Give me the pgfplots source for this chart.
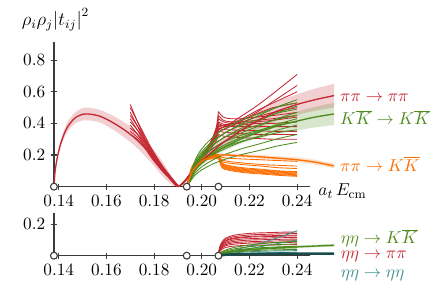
\documentclass[border=0pt]{standalone}
\usepackage{pgfplots}
\pgfplotsset{compat=1.18}
\usepgfplotslibrary{fillbetween}
\definecolor{cred}{RGB}{196,40,50}
\definecolor{cgreen}{RGB}{78,139,30}
\definecolor{corange}{RGB}{255,110,0}
\definecolor{cteal}{RGB}{62,142,142}
\definecolor{cdteal}{RGB}{25,75,75}
\definecolor{axgray}{RGB}{60,60,60}
\tikzset{lab/.style={anchor=west, inner sep=0pt, font=\fontsize{11}{13}\selectfont}}
\pgfplotsset{
  base/.style={
    scale only axis, width=163pt,
    xmin=0.138, xmax=0.2455, ymin=0,
    axis lines=left,
    axis line style={-, line width=0.8pt, axgray},
    every tick/.style={axgray, line width=0.7pt},
    major tick length=4pt,
    clip=false,
    scaled x ticks=false, scaled y ticks=false,
    xtick={0.14,0.16,0.18,0.20,0.22,0.24},
    xticklabel style={/pgf/number format/.cd, fixed, fixed zerofill, precision=2},
    yticklabel style={/pgf/number format/.cd, fixed, fixed zerofill, precision=1},
    tick label style={font=\fontsize{10.5}{12}\selectfont},
  },
  thinl/.style={line width=0.55pt, smooth},
  cen/.style={line width=0.85pt, smooth},
  thr/.style={only marks, mark=*, mark size=2.2pt, mark options={fill=white, draw=axgray, line width=0.7pt}},
}
\begin{document}
\begin{tikzpicture}
\path (-34.3pt,-70.2pt) rectangle (243.6pt,118.7pt);
\begin{axis}[base, name=top, at={(0,0)}, anchor=south west, height=92pt, ymax=0.915,
  ytick={0.2,0.4,0.6,0.8}]
% ---- bands ----
\addplot[name path=rau, draw=none, smooth] coordinates {(0.138,0) (0.1385,0.11) (0.1395,0.205) (0.1410,0.30) (0.1434,0.40) (0.1469,0.47) (0.1511,0.50) (0.1574,0.485) (0.1644,0.435) (0.1713,0.366) (0.1783,0.26) (0.1839,0.15) (0.1881,0.045) (0.1902,0)};
\addplot[name path=ral, draw=none, smooth] coordinates {(0.138,0) (0.1385,0.09) (0.1395,0.175) (0.1410,0.26) (0.1434,0.34) (0.1469,0.40) (0.1511,0.42) (0.1574,0.405) (0.1644,0.345) (0.1713,0.266) (0.1783,0.16) (0.1839,0.06) (0.1881,0.005) (0.1902,0)};
\addplot[cred, fill opacity=0.22, draw=none] fill between[of=rau and ral];
\addplot[name path=rbu, draw=none, smooth] coordinates {(0.1905,0) (0.1937,0.06) (0.197,0.125) (0.200,0.18) (0.205,0.26) (0.210,0.325) (0.217,0.405) (0.225,0.485) (0.232,0.54) (0.240,0.585) (0.2475,0.62) (0.2555,0.651)};
\addplot[name path=rbl, draw=none, smooth] coordinates {(0.1905,0) (0.1937,0.04) (0.197,0.095) (0.200,0.14) (0.205,0.20) (0.210,0.255) (0.217,0.315) (0.225,0.375) (0.232,0.42) (0.240,0.455) (0.2475,0.48) (0.2555,0.501)};
\addplot[cred, fill opacity=0.22, draw=none] fill between[of=rbu and rbl];
\addplot[name path=gu, draw=none, smooth] coordinates {(0.1937,0) (0.197,0.11) (0.200,0.165) (0.205,0.23) (0.210,0.28) (0.217,0.335) (0.225,0.39) (0.232,0.435) (0.240,0.475) (0.2475,0.505) (0.2555,0.53)};
\addplot[name path=gl, draw=none, smooth] coordinates {(0.1937,0) (0.197,0.09) (0.200,0.135) (0.205,0.19) (0.210,0.23) (0.217,0.275) (0.225,0.31) (0.232,0.335) (0.240,0.355) (0.2475,0.375) (0.2555,0.39)};
\addplot[cgreen, fill opacity=0.22, draw=none] fill between[of=gu and gl];
\addplot[name path=ou, draw=none, smooth] coordinates {(0.1937,0) (0.1955,0.085) (0.197,0.123) (0.200,0.17) (0.205,0.205) (0.210,0.21) (0.217,0.205) (0.225,0.20) (0.232,0.192) (0.240,0.185) (0.2475,0.17) (0.2555,0.146)};
\addplot[name path=ol, draw=none, smooth] coordinates {(0.1937,0) (0.1955,0.075) (0.197,0.107) (0.200,0.15) (0.205,0.185) (0.210,0.19) (0.217,0.185) (0.225,0.176) (0.232,0.168) (0.240,0.155) (0.2475,0.14) (0.2555,0.116)};
\addplot[corange, fill opacity=0.22, draw=none] fill between[of=ou and ol];
% ---- red lines region A ----
\addplot[cred, thinl] coordinates {(0.170,0.52) (0.1745,0.36) (0.179,0.22) (0.184,0.11) (0.1895,0)};
\addplot[cred, thinl] coordinates {(0.170,0.50) (0.1745,0.37) (0.179,0.24) (0.184,0.12) (0.1900,0)};
\addplot[cred, thinl] coordinates {(0.170,0.47) (0.1745,0.34) (0.179,0.21) (0.184,0.10) (0.1895,0)};
\addplot[cred, thinl] coordinates {(0.170,0.45) (0.1745,0.35) (0.179,0.23) (0.184,0.12) (0.1905,0)};
\addplot[cred, thinl] coordinates {(0.170,0.43) (0.1745,0.32) (0.179,0.20) (0.184,0.10) (0.1898,0)};
\addplot[cred, thinl] coordinates {(0.170,0.41) (0.1745,0.33) (0.179,0.22) (0.184,0.11) (0.1903,0)};
\addplot[cred, thinl] coordinates {(0.170,0.39) (0.1745,0.30) (0.179,0.19) (0.184,0.095) (0.1898,0)};
\addplot[cred, thinl] coordinates {(0.170,0.37) (0.1745,0.31) (0.179,0.21) (0.184,0.105) (0.1905,0)};
\addplot[cred, thinl] coordinates {(0.170,0.35) (0.1745,0.29) (0.179,0.19) (0.184,0.09) (0.1900,0)};
\addplot[cred, thinl] coordinates {(0.170,0.33) (0.1745,0.28) (0.179,0.18) (0.184,0.09) (0.1902,0)};
% ---- red lines region B (below eta-eta threshold) ----
\addplot[cred, thinl] coordinates {(0.1905,0) (0.1937,0.05) (0.197,0.12) (0.200,0.182) (0.203,0.246) (0.205,0.292) (0.2063,0.327) (0.207,0.36)};
\addplot[cred, thinl] coordinates {(0.1905,0) (0.1937,0.05) (0.197,0.12) (0.200,0.1815) (0.203,0.2445) (0.205,0.289) (0.2063,0.3215) (0.207,0.35)};
\addplot[cred, thinl] coordinates {(0.1905,0) (0.1937,0.05) (0.197,0.12) (0.200,0.183) (0.203,0.249) (0.205,0.298) (0.2063,0.338) (0.207,0.38)};
\addplot[cred, thinl] coordinates {(0.1905,0) (0.1937,0.05) (0.197,0.12) (0.200,0.188) (0.203,0.263) (0.205,0.327) (0.2063,0.390) (0.207,0.475)};
\addplot[cred, thinl] coordinates {(0.1905,0) (0.1937,0.05) (0.197,0.12) (0.200,0.1865) (0.203,0.2595) (0.205,0.319) (0.2063,0.3765) (0.207,0.45)};
\addplot[cred, thinl] coordinates {(0.1905,0) (0.1937,0.05) (0.197,0.12) (0.200,0.1855) (0.203,0.2565) (0.205,0.313) (0.2063,0.3655) (0.207,0.43)};
\addplot[cred, thinl] coordinates {(0.1905,0) (0.1937,0.05) (0.197,0.12) (0.200,0.1845) (0.203,0.2535) (0.205,0.307) (0.2063,0.3545) (0.207,0.41)};
\addplot[cred, thinl] coordinates {(0.1905,0) (0.1937,0.05) (0.197,0.12) (0.200,0.184) (0.203,0.252) (0.205,0.304) (0.2063,0.349) (0.207,0.40)};
\addplot[cred, thinl] coordinates {(0.1905,0) (0.1937,0.05) (0.197,0.12) (0.200,0.1825) (0.203,0.2475) (0.205,0.295) (0.2063,0.3325) (0.207,0.37)};
\addplot[cred, thinl] coordinates {(0.1905,0) (0.1937,0.047) (0.197,0.114) (0.200,0.173) (0.203,0.235) (0.205,0.280) (0.2063,0.315) (0.207,0.35)};
\addplot[cred, thinl] coordinates {(0.1905,0) (0.1937,0.045) (0.197,0.108) (0.200,0.164) (0.203,0.222) (0.205,0.265) (0.2063,0.297) (0.207,0.33)};
\addplot[cred, thinl] coordinates {(0.1905,0) (0.1937,0.0525) (0.197,0.126) (0.200,0.191) (0.203,0.257) (0.205,0.304) (0.2063,0.339) (0.207,0.37)};
\addplot[cred, thinl] coordinates {(0.1905,0) (0.1937,0.0525) (0.197,0.126) (0.200,0.192) (0.203,0.260) (0.205,0.310) (0.2063,0.350) (0.207,0.39)};
% ---- red lines region B (above eta-eta threshold) ----
\addplot[cred, thinl] coordinates {(0.207,0.36) (0.209,0.375) (0.212,0.40) (0.217,0.45) (0.223,0.51) (0.230,0.59) (0.240,0.71)};
\addplot[cred, thinl] coordinates {(0.207,0.35) (0.209,0.36) (0.212,0.38) (0.217,0.42) (0.223,0.47) (0.230,0.54) (0.240,0.64)};
\addplot[cred, thinl] coordinates {(0.207,0.38) (0.209,0.385) (0.212,0.40) (0.217,0.43) (0.223,0.48) (0.230,0.53) (0.240,0.60)};
\addplot[cred, thinl] coordinates {(0.207,0.475) (0.209,0.44) (0.212,0.43) (0.217,0.43) (0.223,0.44) (0.230,0.45) (0.240,0.47)};
\addplot[cred, thinl] coordinates {(0.207,0.45) (0.209,0.42) (0.212,0.41) (0.217,0.41) (0.223,0.42) (0.230,0.43) (0.240,0.45)};
\addplot[cred, thinl] coordinates {(0.207,0.43) (0.209,0.41) (0.212,0.40) (0.217,0.40) (0.223,0.41) (0.230,0.42) (0.240,0.44)};
\addplot[cred, thinl] coordinates {(0.207,0.41) (0.209,0.395) (0.212,0.39) (0.217,0.39) (0.223,0.40) (0.230,0.40) (0.240,0.41)};
\addplot[cred, thinl] coordinates {(0.207,0.40) (0.209,0.385) (0.212,0.38) (0.217,0.38) (0.223,0.38) (0.230,0.38) (0.240,0.38)};
\addplot[cred, thinl] coordinates {(0.207,0.37) (0.209,0.36) (0.212,0.36) (0.217,0.355) (0.223,0.355) (0.230,0.35) (0.240,0.35)};
\addplot[cred, thinl] coordinates {(0.207,0.35) (0.209,0.345) (0.212,0.34) (0.217,0.335) (0.223,0.33) (0.230,0.33) (0.240,0.33)};
\addplot[cred, thinl] coordinates {(0.207,0.33) (0.209,0.32) (0.212,0.315) (0.217,0.31) (0.223,0.305) (0.230,0.30) (0.240,0.30)};
\addplot[cred, thinl] coordinates {(0.207,0.37) (0.209,0.375) (0.212,0.39) (0.217,0.42) (0.223,0.46) (0.230,0.50) (0.240,0.53)};
\addplot[cred, thinl] coordinates {(0.207,0.39) (0.209,0.385) (0.212,0.39) (0.217,0.41) (0.223,0.44) (0.230,0.47) (0.240,0.50)};
% ---- orange lines ----
\addplot[corange, thinl] coordinates {(0.1937,0) (0.1955,0.10) (0.197,0.14) (0.200,0.18) (0.204,0.19) (0.207,0.19)};
\addplot[corange, thinl] coordinates {(0.207,0.19) (0.2085,0.185) (0.211,0.18) (0.217,0.175) (0.225,0.17) (0.232,0.165) (0.240,0.16)};
\addplot[corange, thinl] coordinates {(0.1937,0) (0.1955,0.09) (0.197,0.13) (0.200,0.17) (0.204,0.185) (0.207,0.19)};
\addplot[corange, thinl] coordinates {(0.207,0.19) (0.2085,0.17) (0.211,0.16) (0.217,0.15) (0.225,0.14) (0.232,0.135) (0.240,0.13)};
\addplot[corange, thinl] coordinates {(0.1937,0) (0.1955,0.11) (0.197,0.15) (0.200,0.19) (0.204,0.20) (0.207,0.205)};
\addplot[corange, thinl] coordinates {(0.207,0.205) (0.2085,0.15) (0.211,0.135) (0.217,0.12) (0.225,0.11) (0.232,0.10) (0.240,0.095)};
\addplot[corange, thinl] coordinates {(0.1937,0) (0.1955,0.10) (0.197,0.14) (0.200,0.18) (0.204,0.19) (0.207,0.195)};
\addplot[corange, thinl] coordinates {(0.207,0.195) (0.2085,0.14) (0.211,0.125) (0.217,0.11) (0.225,0.10) (0.232,0.092) (0.240,0.085)};
\addplot[corange, thinl] coordinates {(0.1937,0) (0.1955,0.09) (0.197,0.13) (0.200,0.17) (0.204,0.18) (0.207,0.185)};
\addplot[corange, thinl] coordinates {(0.207,0.185) (0.2085,0.13) (0.211,0.115) (0.217,0.10) (0.225,0.09) (0.232,0.082) (0.240,0.075)};
\addplot[corange, thinl] coordinates {(0.1937,0) (0.1955,0.10) (0.197,0.14) (0.200,0.175) (0.204,0.185) (0.207,0.19)};
\addplot[corange, thinl] coordinates {(0.207,0.19) (0.2085,0.125) (0.211,0.11) (0.217,0.095) (0.225,0.085) (0.232,0.077) (0.240,0.07)};
\addplot[corange, thinl] coordinates {(0.1937,0) (0.1955,0.11) (0.197,0.15) (0.200,0.185) (0.204,0.19) (0.207,0.195)};
\addplot[corange, thinl] coordinates {(0.207,0.195) (0.2085,0.135) (0.211,0.12) (0.217,0.105) (0.225,0.095) (0.232,0.087) (0.240,0.08)};
\addplot[corange, thinl] coordinates {(0.1937,0) (0.1955,0.09) (0.197,0.13) (0.200,0.165) (0.204,0.175) (0.207,0.18)};
\addplot[corange, thinl] coordinates {(0.207,0.18) (0.2085,0.12) (0.211,0.105) (0.217,0.09) (0.225,0.08) (0.232,0.072) (0.240,0.065)};
\addplot[corange, thinl] coordinates {(0.1937,0) (0.1955,0.10) (0.197,0.14) (0.200,0.18) (0.204,0.19) (0.207,0.20)};
\addplot[corange, thinl] coordinates {(0.207,0.20) (0.2085,0.16) (0.211,0.15) (0.217,0.14) (0.225,0.13) (0.232,0.12) (0.240,0.115)};
\addplot[corange, thinl] coordinates {(0.1937,0) (0.1955,0.11) (0.197,0.15) (0.200,0.19) (0.204,0.195) (0.207,0.20)};
\addplot[corange, thinl] coordinates {(0.207,0.20) (0.2085,0.145) (0.211,0.13) (0.217,0.115) (0.225,0.105) (0.232,0.097) (0.240,0.09)};
% ---- green lines ----
\addplot[cgreen, thinl] coordinates {(0.1937,0) (0.197,0.138) (0.200,0.209) (0.205,0.286) (0.210,0.341) (0.217,0.402) (0.225,0.457) (0.232,0.506) (0.240,0.55)};
\addplot[cgreen, thinl] coordinates {(0.1937,0) (0.197,0.159) (0.200,0.239) (0.205,0.318) (0.210,0.371) (0.217,0.424) (0.225,0.466) (0.232,0.504) (0.240,0.53)};
\addplot[cgreen, thinl] coordinates {(0.1937,0) (0.197,0.128) (0.200,0.194) (0.205,0.265) (0.210,0.316) (0.217,0.372) (0.225,0.423) (0.232,0.469) (0.240,0.51)};
\addplot[cgreen, thinl] coordinates {(0.1937,0) (0.197,0.147) (0.200,0.221) (0.205,0.294) (0.210,0.343) (0.217,0.392) (0.225,0.431) (0.232,0.466) (0.240,0.49)};
\addplot[cgreen, thinl] coordinates {(0.1937,0) (0.197,0.118) (0.200,0.179) (0.205,0.244) (0.210,0.291) (0.217,0.343) (0.225,0.390) (0.232,0.432) (0.240,0.47)};
\addplot[cgreen, thinl] coordinates {(0.1937,0) (0.197,0.135) (0.200,0.203) (0.205,0.270) (0.210,0.315) (0.217,0.360) (0.225,0.396) (0.232,0.428) (0.240,0.45)};
\addplot[cgreen, thinl] coordinates {(0.1937,0) (0.197,0.108) (0.200,0.163) (0.205,0.224) (0.210,0.267) (0.217,0.314) (0.225,0.357) (0.232,0.396) (0.240,0.43)};
\addplot[cgreen, thinl] coordinates {(0.1937,0) (0.197,0.123) (0.200,0.185) (0.205,0.246) (0.210,0.287) (0.217,0.328) (0.225,0.361) (0.232,0.390) (0.240,0.41)};
\addplot[cgreen, thinl] coordinates {(0.1937,0) (0.197,0.098) (0.200,0.148) (0.205,0.203) (0.210,0.242) (0.217,0.285) (0.225,0.324) (0.232,0.359) (0.240,0.39)};
\addplot[cgreen, thinl] coordinates {(0.1937,0) (0.197,0.108) (0.200,0.162) (0.205,0.216) (0.210,0.252) (0.217,0.288) (0.225,0.317) (0.232,0.342) (0.240,0.36)};
\addplot[cgreen, thinl] coordinates {(0.1937,0) (0.197,0.083) (0.200,0.125) (0.205,0.172) (0.210,0.205) (0.217,0.241) (0.225,0.274) (0.232,0.304) (0.240,0.33)};
\addplot[cgreen, thinl] coordinates {(0.1937,0) (0.197,0.070) (0.200,0.106) (0.205,0.146) (0.210,0.174) (0.217,0.204) (0.225,0.232) (0.232,0.258) (0.240,0.28)};
% ---- central curves ----
\addplot[cred, cen] coordinates {(0.138,0) (0.1385,0.10) (0.1395,0.19) (0.1410,0.28) (0.1434,0.37) (0.1469,0.435) (0.1511,0.46) (0.1574,0.445) (0.1644,0.39) (0.1713,0.316) (0.1783,0.21) (0.1839,0.105) (0.1881,0.025) (0.1902,0)};
\addplot[cred, cen] coordinates {(0.1905,0) (0.1937,0.05) (0.197,0.11) (0.200,0.16) (0.205,0.23) (0.210,0.29) (0.217,0.36) (0.225,0.43) (0.232,0.48) (0.240,0.52) (0.2475,0.55) (0.2555,0.576)};
\addplot[cgreen, cen] coordinates {(0.1937,0) (0.197,0.10) (0.200,0.15) (0.205,0.21) (0.210,0.255) (0.217,0.305) (0.225,0.35) (0.232,0.385) (0.240,0.415) (0.2475,0.44) (0.2555,0.46)};
\addplot[corange, cen] coordinates {(0.1937,0) (0.1955,0.08) (0.197,0.115) (0.200,0.16) (0.205,0.195) (0.210,0.20) (0.217,0.195) (0.225,0.188) (0.232,0.18) (0.240,0.17) (0.2475,0.155) (0.2555,0.131)};
% ---- thresholds ----
\addplot[thr] coordinates {(0.138,0) (0.1937,0) (0.207,0)};
% ---- labels ----
\node[anchor=center, inner sep=0pt, font=\fontsize{12}{14}\selectfont] at (rel axis cs:0,1) [yshift=14pt, xshift=1pt] {$\rho_i\rho_j\bigl|t_{ij}\bigr|^2$};
\node[lab] at (rel axis cs:1,0) [xshift=5pt, yshift=-3pt] {$a_t\,E_{\mathrm{cm}}$};
\node[lab, text=cred] at (axis cs:0.2579,0.561) {$\pi\pi\to\pi\pi$};
\node[lab, text=cgreen] at (axis cs:0.2579,0.438) {$K\overline{K}\to K\overline{K}$};
\node[lab, text=corange] at (axis cs:0.2579,0.144) {$\pi\pi\to K\overline{K}$};
\end{axis}
\begin{axis}[base, name=bot, at={(0,-43.9pt)}, anchor=south west, height=27.1pt, ymax=0.27,
  ytick={0.2}]
\addplot[name path=gbu, draw=none, smooth] coordinates {(0.207,0) (0.2085,0.015) (0.210,0.022) (0.213,0.031) (0.217,0.039) (0.222,0.046) (0.228,0.054) (0.234,0.059) (0.240,0.064) (0.2475,0.069) (0.2555,0.075)};
\addplot[name path=gbl, draw=none, smooth] coordinates {(0.207,0) (0.2085,0.009) (0.210,0.014) (0.213,0.021) (0.217,0.027) (0.222,0.034) (0.228,0.040) (0.234,0.045) (0.240,0.048) (0.2475,0.053) (0.2555,0.057)};
\addplot[cgreen, fill opacity=0.25, draw=none] fill between[of=gbu and gbl];
% red eta eta -> pi pi
\addplot[cred, thinl] coordinates {(0.207,0) (0.2075,0.053) (0.2085,0.087) (0.210,0.111) (0.213,0.128) (0.217,0.137) (0.222,0.143) (0.228,0.146) (0.234,0.149) (0.240,0.15)};
\addplot[cred, thinl] coordinates {(0.207,0) (0.2075,0.049) (0.2085,0.081) (0.210,0.104) (0.213,0.119) (0.217,0.127) (0.222,0.133) (0.228,0.136) (0.234,0.139) (0.240,0.14)};
\addplot[cred, thinl] coordinates {(0.207,0) (0.2075,0.046) (0.2085,0.075) (0.210,0.096) (0.213,0.111) (0.217,0.118) (0.222,0.124) (0.228,0.126) (0.234,0.129) (0.240,0.13)};
\addplot[cred, thinl] coordinates {(0.207,0) (0.2075,0.044) (0.2085,0.073) (0.210,0.093) (0.213,0.106) (0.217,0.114) (0.222,0.119) (0.228,0.121) (0.234,0.124) (0.240,0.125)};
\addplot[cred, thinl] coordinates {(0.207,0) (0.2075,0.040) (0.2085,0.067) (0.210,0.085) (0.213,0.098) (0.217,0.105) (0.222,0.109) (0.228,0.112) (0.234,0.114) (0.240,0.115)};
\addplot[cred, thinl] coordinates {(0.207,0) (0.2075,0.037) (0.2085,0.061) (0.210,0.078) (0.213,0.089) (0.217,0.096) (0.222,0.100) (0.228,0.102) (0.234,0.104) (0.240,0.105)};
\addplot[cred, thinl] coordinates {(0.207,0) (0.2075,0.033) (0.2085,0.055) (0.210,0.070) (0.213,0.081) (0.217,0.086) (0.222,0.090) (0.228,0.092) (0.234,0.094) (0.240,0.095)};
\addplot[cred, thinl] coordinates {(0.207,0) (0.2075,0.030) (0.2085,0.049) (0.210,0.063) (0.213,0.072) (0.217,0.077) (0.222,0.081) (0.228,0.082) (0.234,0.084) (0.240,0.085)};
\addplot[cred, thinl] coordinates {(0.207,0) (0.2075,0.025) (0.2085,0.041) (0.210,0.052) (0.213,0.060) (0.217,0.064) (0.222,0.067) (0.228,0.068) (0.234,0.069) (0.240,0.07)};
% teal eta eta -> eta eta
\addplot[cteal, thinl] coordinates {(0.207,0) (0.210,0.02) (0.215,0.04) (0.220,0.06) (0.225,0.08) (0.230,0.105) (0.235,0.13) (0.240,0.158)};
\addplot[cteal, thinl] coordinates {(0.207,0) (0.210,0.015) (0.215,0.03) (0.220,0.045) (0.225,0.058) (0.230,0.072) (0.235,0.085) (0.240,0.10)};
\addplot[cteal, thinl] coordinates {(0.207,0) (0.210,0.012) (0.215,0.02) (0.220,0.025) (0.225,0.028) (0.230,0.03) (0.235,0.031) (0.240,0.032)};
\addplot[cteal, thinl] coordinates {(0.207,0) (0.210,0.008) (0.215,0.013) (0.220,0.016) (0.225,0.018) (0.230,0.02) (0.235,0.021) (0.240,0.022)};
% green eta eta -> K Kbar
\addplot[cgreen, thinl] coordinates {(0.207,0) (0.2075,0.014) (0.2085,0.025) (0.210,0.036) (0.213,0.050) (0.217,0.061) (0.222,0.072) (0.228,0.080) (0.234,0.086) (0.240,0.09)};
\addplot[cgreen, thinl] coordinates {(0.207,0) (0.2075,0.011) (0.2085,0.021) (0.210,0.030) (0.213,0.041) (0.217,0.051) (0.222,0.060) (0.228,0.067) (0.234,0.071) (0.240,0.075)};
\addplot[cgreen, thinl] coordinates {(0.207,0) (0.2075,0.009) (0.2085,0.017) (0.210,0.024) (0.213,0.033) (0.217,0.041) (0.222,0.048) (0.228,0.053) (0.234,0.057) (0.240,0.06)};
\addplot[cgreen, thinl] coordinates {(0.207,0) (0.2075,0.008) (0.2085,0.014) (0.210,0.020) (0.213,0.028) (0.217,0.034) (0.222,0.040) (0.228,0.045) (0.234,0.048) (0.240,0.05)};
\addplot[cgreen, thinl] coordinates {(0.207,0) (0.2075,0.006) (0.2085,0.011) (0.210,0.016) (0.213,0.022) (0.217,0.027) (0.222,0.032) (0.228,0.036) (0.234,0.038) (0.240,0.04)};
\addplot[cgreen, cen] coordinates {(0.207,0) (0.2085,0.012) (0.210,0.018) (0.213,0.026) (0.217,0.033) (0.222,0.040) (0.228,0.047) (0.234,0.052) (0.240,0.056) (0.2475,0.061) (0.2555,0.066)};
\addplot[cdteal, line width=1.6pt, smooth] coordinates {(0.207,0) (0.210,0.006) (0.215,0.009) (0.222,0.011) (0.230,0.012) (0.240,0.013) (0.2475,0.013) (0.2555,0.013)};
\addplot[thr] coordinates {(0.138,0) (0.1937,0) (0.207,0)};
\node[lab, text=cgreen] at (axis cs:0.2582,0.112) {$\eta\eta\to K\overline{K}$};
\node[lab, text=cred] at (axis cs:0.2582,-0.006) {$\eta\eta\to \pi\pi$};
\node[lab, text=cteal] at (axis cs:0.2582,-0.127) {$\eta\eta\to \eta\eta$};
\end{axis}
\end{tikzpicture}
\end{document}
